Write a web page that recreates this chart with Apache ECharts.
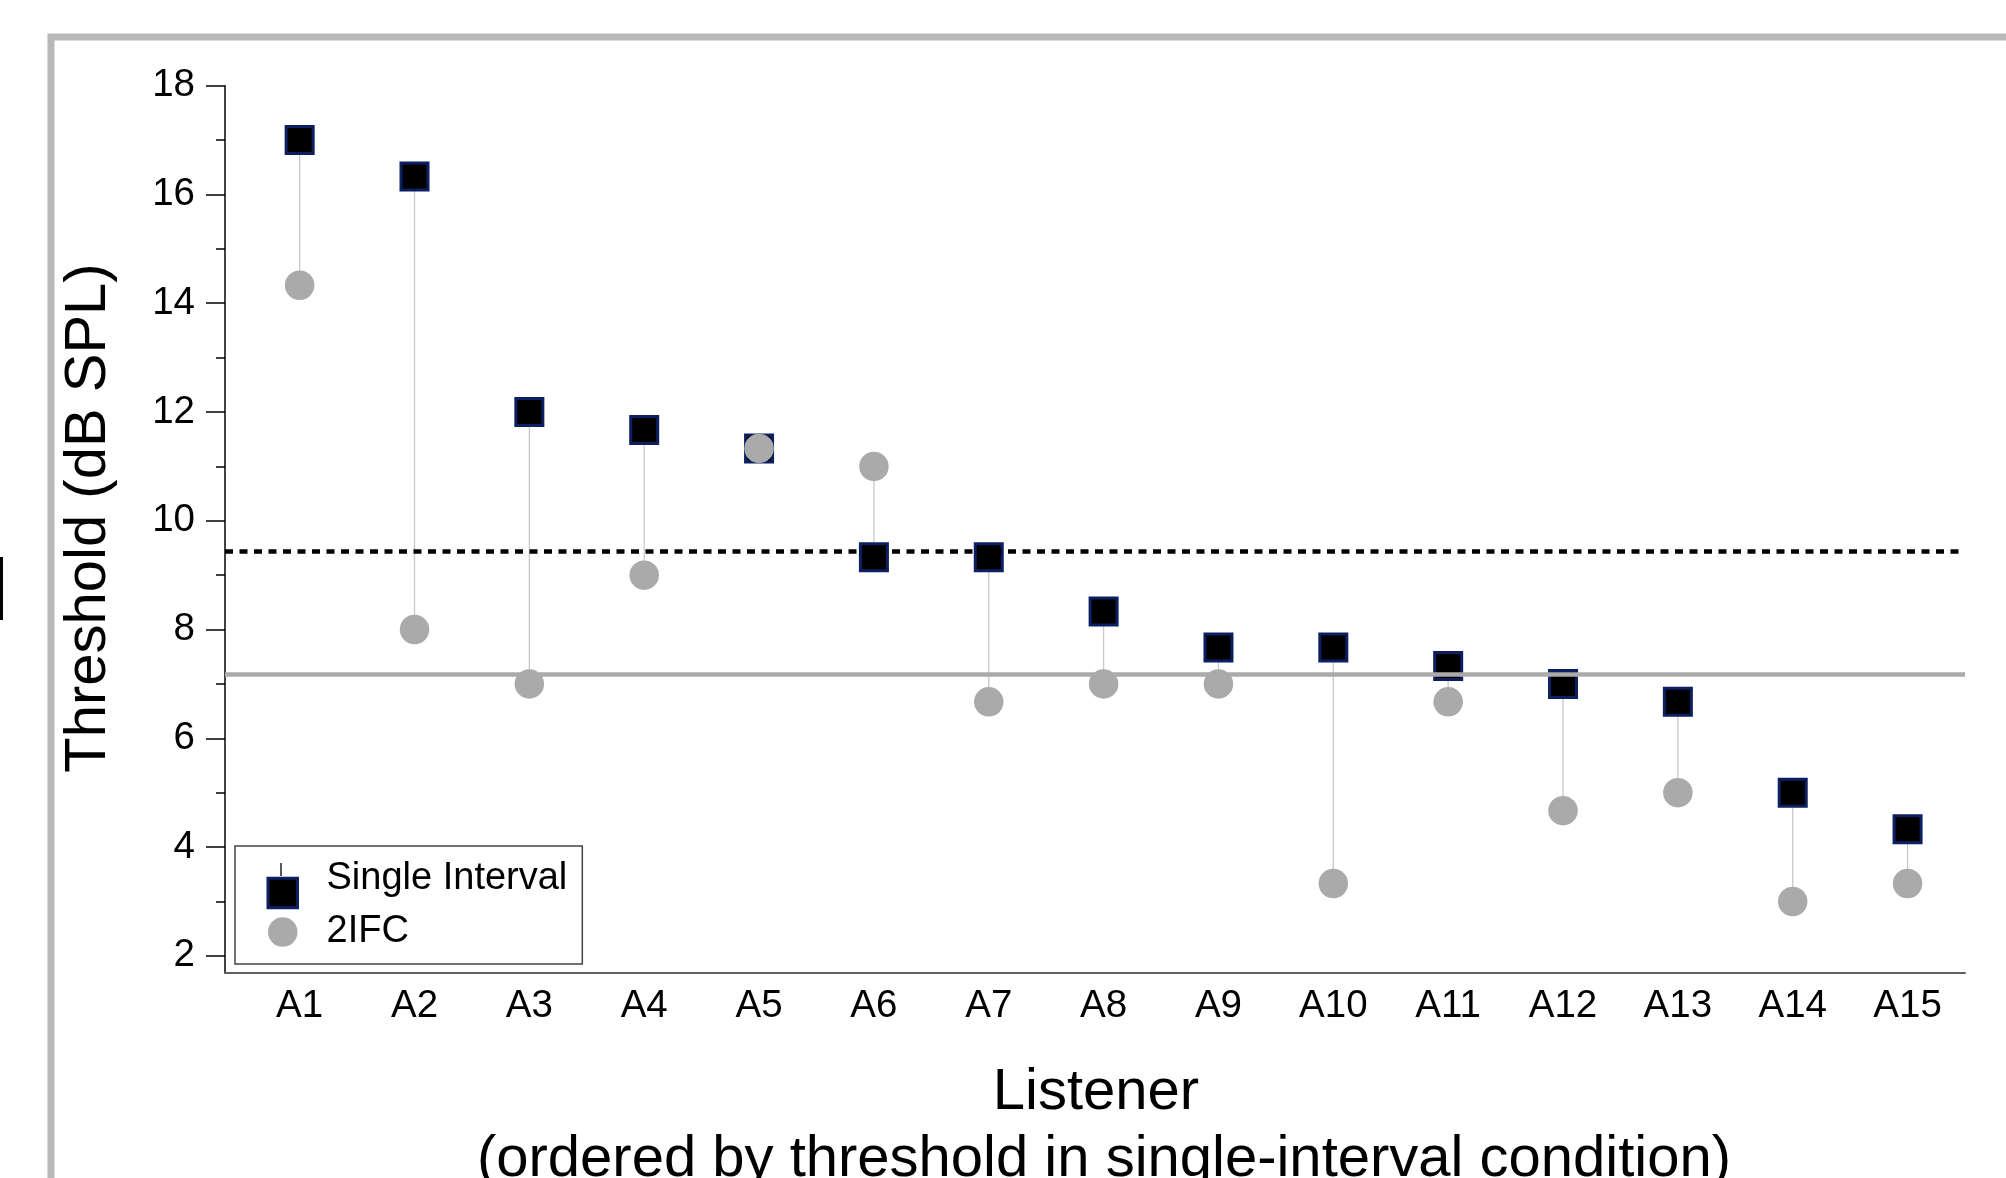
<!DOCTYPE html>
<html>
<head>
<meta charset="utf-8">
<script src="https://cdn.jsdelivr.net/npm/echarts@6/dist/echarts.min.js"></script>
<style>
  html, body { margin: 0; padding: 0; background: #fff; }
  #chart { width: 2006px; height: 1178px; }
</style>
</head>
<body>
<div id="chart"></div>
<script>
// listeners, ordered by single-interval threshold
const listeners = ['A1', 'A2', 'A3', 'A4', 'A5', 'A6', 'A7', 'A8', 'A9', 'A10', 'A11', 'A12', 'A13', 'A14', 'A15'];
// thresholds in dB SPL
const singleInterval = [17.0, 16.33, 12.0, 11.67, 11.33, 9.33, 9.33, 8.33, 7.67, 7.67, 7.33, 7.0, 6.67, 5.0, 4.33];
const twoIFC = [14.33, 8.0, 7.0, 9.0, 11.33, 11.0, 6.67, 7.0, 7.0, 3.33, 6.67, 4.67, 5.0, 3.0, 3.33];
// group means drawn as horizontal lines
const singleMean = 9.44;
const twoIFCMean = 7.17;
// y axis ticks
const yMajorTicks = [2, 4, 6, 8, 10, 12, 14, 16, 18];
const yMinorTicks = [3, 5, 7, 9, 11, 13, 15, 17];

const FONT = '"Liberation Sans", Arial, sans-serif';
const xPos = listeners.map((_, i) => i + 1);

const chart = echarts.init(document.getElementById('chart'));

const yCommon = {
  type: 'value',
  min: 1.69,
  max: 18,
  position: 'left',
  splitLine: { show: false }
};

const option = {
  backgroundColor: '#fff',
  animation: false,
  grid: { left: 225, top: 85.7, right: 41, bottom: 205.3, outerBoundsMode: 'none' },
  xAxis: {
    type: 'value',
    min: 0.35,
    max: 15.5,
    axisLine: { onZero: false, lineStyle: { color: '#606060', width: 2 } },
    axisTick: { show: false },
    splitLine: { show: false },
    axisLabel: {
      customValues: xPos,
      formatter: (v) => listeners[Math.round(v) - 1] || '',
      fontFamily: FONT,
      fontSize: 38.5,
      lineHeight: 38,
      color: '#000',
      margin: 15
    }
  },
  yAxis: [
    Object.assign({}, yCommon, {
      axisLine: { onZero: false, lineStyle: { color: '#000', width: 1.5 } },
      axisTick: { customValues: yMajorTicks, length: 19, lineStyle: { color: '#000', width: 1.5 } },
      axisLabel: {
        customValues: yMajorTicks,
        fontFamily: FONT,
        fontSize: 38.5,
        color: '#000',
        margin: 30
      }
    }),
    Object.assign({}, yCommon, {
      axisLine: { show: false, onZero: false },
      axisTick: { customValues: yMinorTicks, length: 9, lineStyle: { color: '#000', width: 1.5 } },
      axisLabel: { show: false }
    })
  ],
  legend: {
    orient: 'vertical',
    left: 235,
    top: 846,
    padding: [14, 15, 13, 31.5],
    itemGap: -13,
    itemWidth: 29.5,
    itemHeight: 29.5,
    backgroundColor: '#fff',
    borderColor: '#444',
    borderWidth: 1.5,
    borderRadius: 0,
    formatter: (name) => name === 'Single Interval' ? '{up|' + name + '}' : '{dn|' + name + '}',
    textStyle: {
      fontFamily: FONT, fontSize: 38, lineHeight: 38, color: '#000',
      rich: {
        up: { fontFamily: FONT, fontSize: 38, lineHeight: 38, color: '#000', padding: [0, 0, 28, 24] },
        dn: { fontFamily: FONT, fontSize: 38, lineHeight: 38, color: '#000', padding: [0, 0, 0, 24] }
      }
    },
    data: [
      {
        name: 'Single Interval',
        icon: 'rect',
        itemStyle: { color: '#000', borderColor: '#0d1f63', borderWidth: 3 }
      },
      {
        name: '2IFC',
        icon: 'circle',
        itemStyle: { color: '#aaaaaa', borderWidth: 0 }
      }
    ]
  },
  series: [
    {
      // connector between the two conditions for each listener
      type: 'custom',
      z: 1,
      silent: true,
      data: xPos.map((x, i) => [x, singleInterval[i], twoIFC[i]]),
      renderItem: (params, api) => {
        const p1 = api.coord([api.value(0), api.value(1)]);
        const p2 = api.coord([api.value(0), api.value(2)]);
        return {
          type: 'line',
          shape: { x1: p1[0], y1: p1[1], x2: p2[0], y2: p2[1] },
          style: { stroke: '#c8c8c8', lineWidth: 1.3 }
        };
      }
    },
    {
      name: 'Single Interval',
      type: 'scatter',
      z: 2,
      symbol: 'rect',
      symbolSize: 27,
      itemStyle: { color: '#000', borderColor: '#0d1f63', borderWidth: 3, opacity: 1 },
      data: xPos.map((x, i) => [x, singleInterval[i]]),
      markLine: {
        silent: true,
        symbol: 'none',
        label: { show: false },
        z: 5,
        lineStyle: { color: '#000', width: 4.5, type: [8, 6.5] },
        data: [{ yAxis: singleMean }]
      }
    },
    {
      name: '2IFC',
      type: 'scatter',
      z: 3,
      symbol: 'circle',
      symbolSize: 29.5,
      itemStyle: { color: '#aaaaaa', opacity: 1 },
      data: xPos.map((x, i) => [x, twoIFC[i]]),
      markLine: {
        silent: true,
        symbol: 'none',
        label: { show: false },
        z: 5,
        lineStyle: { color: '#aaaaaa', width: 4.5, type: 'solid' },
        data: [{ yAxis: twoIFCMean }]
      }
    }
  ],
  graphic: [
    // outer panel frame (cropped on right and bottom)
    {
      type: 'rect', z: 0, silent: true,
      shape: { x: 51, y: 37, width: 3000, height: 3000 },
      style: { fill: 'none', stroke: '#b8b8b8', lineWidth: 7 }
    },
    // fragment of a neighbouring panel at the left edge
    {
      type: 'rect', z: 0, silent: true,
      shape: { x: 0, y: 557, width: 3, height: 63 },
      style: { fill: '#000' }
    },
    // error bar stub above the legend square
    {
      type: 'line', z: 100, silent: true,
      shape: { x1: 281, y1: 863, x2: 281, y2: 876 },
      style: { stroke: '#000', lineWidth: 1.3 }
    },
    {
      type: 'text', z: 10, silent: true,
      x: 89, y: 518, rotation: Math.PI / 2,
      style: {
        text: 'Threshold (dB SPL)', fontFamily: FONT, fontSize: 58, fill: '#000',
        align: 'center', verticalAlign: 'middle'
      }
    },
    {
      type: 'text', z: 10, silent: true,
      x: 1096, y: 1093,
      style: {
        text: 'Listener', fontFamily: FONT, fontSize: 58, fill: '#000',
        align: 'center', verticalAlign: 'middle'
      }
    },
    {
      type: 'text', z: 10, silent: true,
      x: 1104, y: 1160,
      style: {
        text: '(ordered by threshold in single-interval condition)', fontFamily: FONT, fontSize: 58, fill: '#000',
        align: 'center', verticalAlign: 'middle'
      }
    }
  ]
};

chart.setOption(option);
</script>
</body>
</html>
